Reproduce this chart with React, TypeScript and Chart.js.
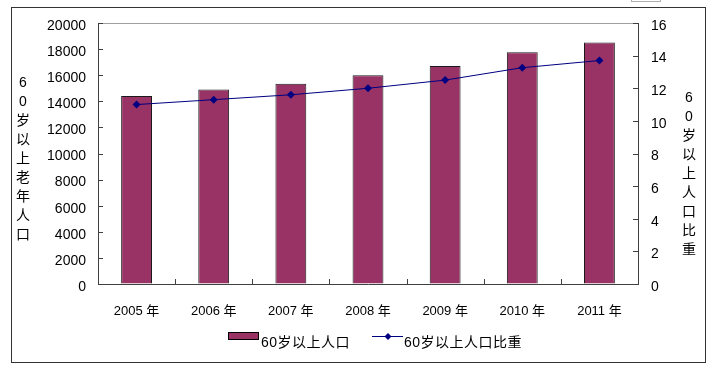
import React, { useEffect, useRef } from "react";
import { Chart, registerables } from "chart.js";

Chart.register(...registerables);

const categories = ["2005 年", "2006 年", "2007 年", "2008 年", "2009 年", "2010 年", "2011 年"];
const population = [14408, 14901, 15340, 15989, 16714, 17765, 18499];
const share = [11.0, 11.3, 11.6, 12.0, 12.5, 13.26, 13.7];
const barLabel = "60岁以上人口";
const lineLabel = "60岁以上人口比重";
const leftTitle = ["6", "0", "岁", "以", "上", "老", "年", "人", "口"];
const rightTitle = ["6", "0", "岁", "以", "上", "人", "口", "比", "重"];

const FAMILY = '"Liberation Sans", "Noto Sans CJK SC", sans-serif';
const BAR_COLOR = "#993366";
const LINE_COLOR = "#000080";
const AXIS_COLOR = "#404040";

const decor = {
  id: "decor",
  beforeDraw(chart: any) {
    const ctx = chart.ctx;
    ctx.save();
    ctx.fillStyle = "#ffffff";
    ctx.fillRect(0, 0, chart.width, chart.height);
    ctx.restore();
  },
  afterDraw(chart: any) {
    const ctx = chart.ctx;
    const { left, right, top, bottom } = chart.chartArea;
    const xs = chart.scales.x;
    const ys = chart.scales.y;
    const y1 = chart.scales.y1;
    ctx.save();
    // outer frame
    ctx.strokeStyle = "#333333";
    ctx.lineWidth = 1;
    ctx.strokeRect(11.5, 7.5, 694, 355);
    // small box fragment at top right
    ctx.strokeStyle = "#b0b0b0";
    ctx.strokeRect(631.5, -6.5, 29, 8);
    // plot top border
    ctx.strokeStyle = "#a0a0a0";
    ctx.beginPath();
    ctx.moveTo(left, Math.round(top) + 0.5);
    ctx.lineTo(right, Math.round(top) + 0.5);
    ctx.stroke();
    // tick marks (inside)
    ctx.strokeStyle = AXIS_COLOR;
    ctx.beginPath();
    ys.ticks.forEach((t: any) => {
      const p = Math.round(ys.getPixelForValue(t.value)) + 0.5;
      ctx.moveTo(left, p);
      ctx.lineTo(left + 5, p);
    });
    y1.ticks.forEach((t: any) => {
      const p = Math.round(y1.getPixelForValue(t.value)) + 0.5;
      ctx.moveTo(right - 5, p);
      ctx.lineTo(right, p);
    });
    for (let i = 0; i <= categories.length; i++) {
      const p = Math.round(xs.getPixelForValue(i - 0.5)) + 0.5;
      ctx.moveTo(p, bottom);
      ctx.lineTo(p, bottom - 5);
    }
    ctx.stroke();
    // axis titles
    ctx.fillStyle = "#000";
    ctx.font = "14px " + FAMILY;
    ctx.textAlign = "center";
    ctx.textBaseline = "middle";
    leftTitle.forEach((c, i) => ctx.fillText(c, 23, 83 + i * 19));
    rightTitle.forEach((c, i) => ctx.fillText(c, 689, 98 + i * 19));
    // legend
    ctx.fillStyle = BAR_COLOR;
    ctx.fillRect(228.5, 332.5, 30, 7);
    ctx.strokeStyle = "#000";
    ctx.strokeRect(228.5, 332.5, 30, 7);
    ctx.strokeStyle = LINE_COLOR;
    ctx.beginPath();
    ctx.moveTo(372, 336.5);
    ctx.lineTo(403, 336.5);
    ctx.stroke();
    ctx.fillStyle = LINE_COLOR;
    ctx.beginPath();
    ctx.moveTo(388, 333);
    ctx.lineTo(391.5, 336.5);
    ctx.lineTo(388, 340);
    ctx.lineTo(384.5, 336.5);
    ctx.closePath();
    ctx.fill();
    ctx.fillStyle = "#000";
    ctx.textAlign = "left";
    (ctx as any).letterSpacing = "0.5px";
    ctx.fillText(barLabel, 261, 343);
    ctx.fillText(lineLabel, 404, 343);
    ctx.restore();
  },
};

export default function App() {
  const ref = useRef<HTMLCanvasElement | null>(null);
  useEffect(() => {
    if (!ref.current) return;
    const chart = new Chart(ref.current, {
      type: "bar",
      data: {
        labels: categories,
        datasets: [
          {
            type: "line",
            label: lineLabel,
            data: share,
            yAxisID: "y1",
            borderColor: LINE_COLOR,
            backgroundColor: LINE_COLOR,
            borderWidth: 1,
            pointStyle: "rectRot",
            pointRadius: 4,
            pointBackgroundColor: LINE_COLOR,
            pointBorderColor: LINE_COLOR,
            pointBorderWidth: 0,
            tension: 0,
            order: 0,
          } as any,
          {
            type: "bar",
            label: barLabel,
            data: population,
            yAxisID: "y",
            backgroundColor: BAR_COLOR,
            borderColor: "#1a1a1a",
            borderWidth: 1,
            barPercentage: 0.4,
            categoryPercentage: 1,
            order: 1,
          } as any,
        ],
      },
      options: {
        animation: false,
        responsive: false,
        devicePixelRatio: 1,
        layout: { padding: { top: 23, left: 0, right: 0, bottom: 0 } },
        plugins: { legend: { display: false }, tooltip: { enabled: false } },
        scales: {
          x: {
            offset: true,
            grid: { drawOnChartArea: false, drawTicks: false },
            border: { display: true, color: AXIS_COLOR, width: 1 },
            ticks: { color: "#000", font: { family: FAMILY, size: 13 }, padding: 20, maxRotation: 0 },
            afterFit: (s: any) => { s.height = 86; },
          },
          y: {
            position: "left",
            min: 0,
            max: 20000,
            grid: { drawOnChartArea: false, drawTicks: false },
            border: { display: true, color: AXIS_COLOR, width: 1 },
            ticks: {
              stepSize: 2000,
              color: "#000",
              font: { family: FAMILY, size: 14 },
              padding: 12,
              labelOffset: 3,
              callback: (v: any) => String(v),
            },
            afterFit: (s: any) => { s.width = 98; },
          },
          y1: {
            position: "right",
            min: 0,
            max: 16,
            grid: { drawOnChartArea: false, drawTicks: false },
            border: { display: true, color: AXIS_COLOR, width: 1 },
            ticks: {
              stepSize: 2,
              color: "#000",
              font: { family: FAMILY, size: 14 },
              padding: 13,
              labelOffset: 3,
              callback: (v: any) => String(v),
            },
            afterFit: (s: any) => { s.width = 82; },
          },
        },
      },
      plugins: [decor],
    });
    return () => chart.destroy();
  }, []);
  return (
    <div style={{ position: "fixed", left: 0, top: 0, width: 720, height: 370, background: "#fff" }}>
      <canvas ref={ref} width={720} height={370} style={{ display: "block" }} />
    </div>
  );
}
